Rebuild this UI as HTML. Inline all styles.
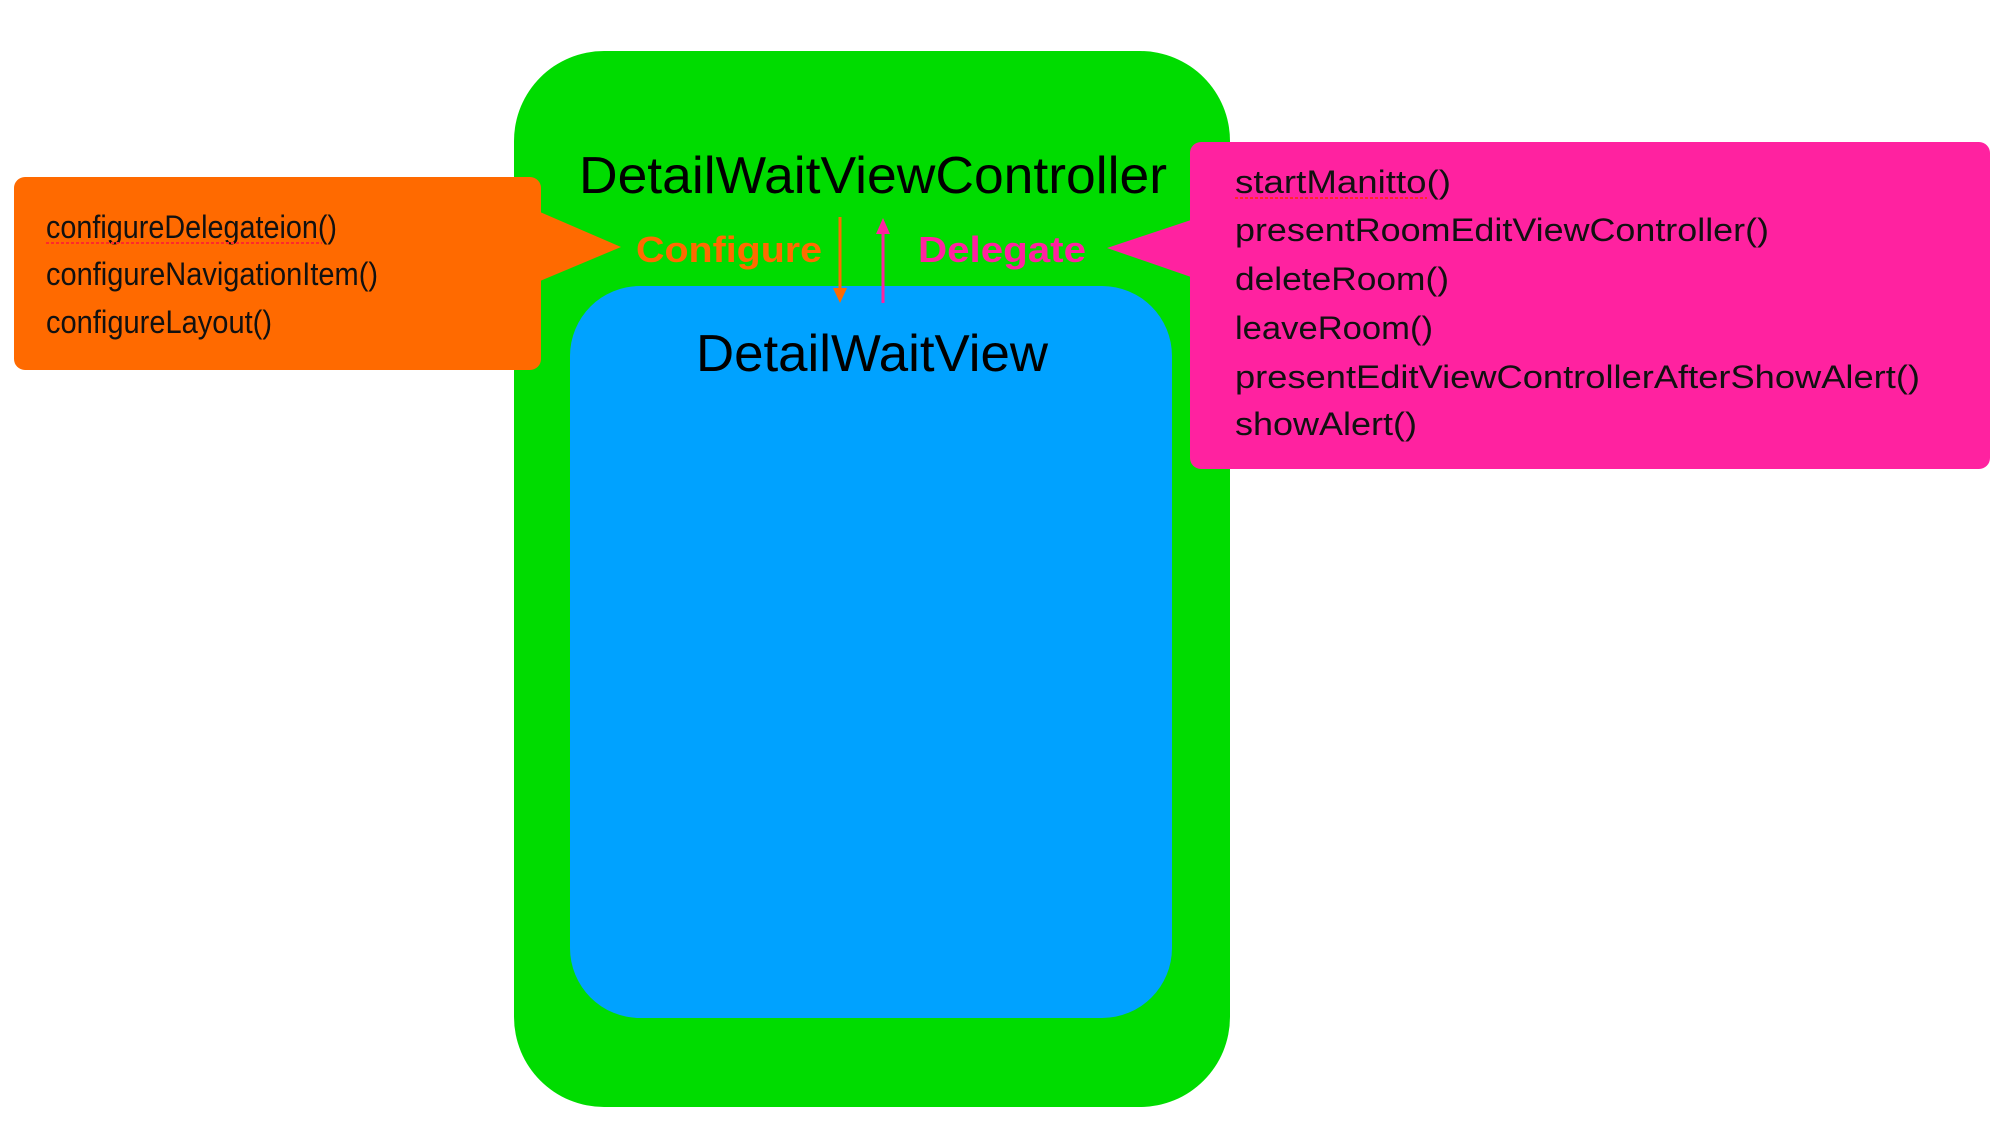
<!DOCTYPE html>
<html><head><meta charset="utf-8"><style>html,body{margin:0;padding:0;background:#fff;}svg{display:block}</style></head>
<body>
<svg width="2000" height="1129" viewBox="0 0 2000 1129" xmlns="http://www.w3.org/2000/svg" font-family="Liberation Sans, sans-serif">
<rect x="514" y="51" width="716" height="1056" rx="90" fill="#00dc00"/>
<rect x="570" y="286" width="602" height="732" rx="70" fill="#00a2ff"/>
<rect x="14" y="177" width="527" height="193" rx="11" fill="#ff6a00"/>
<polygon points="540,212 621,247 540,281" fill="#ff6a00"/>
<rect x="1190" y="142" width="800" height="327" rx="11" fill="#ff22a0"/>
<polygon points="1191,220 1107,248 1191,277" fill="#ff22a0"/>
<text x="579" y="193" font-size="52" textLength="588" lengthAdjust="spacingAndGlyphs">DetailWaitViewController</text>
<text x="696" y="371" font-size="52" textLength="352" lengthAdjust="spacingAndGlyphs">DetailWaitView</text>
<text x="636" y="262" font-size="36" font-weight="bold" fill="#ff6a00" textLength="186" lengthAdjust="spacingAndGlyphs">Configure</text>
<text x="918" y="262" font-size="36" font-weight="bold" fill="#ff22a0" textLength="168" lengthAdjust="spacingAndGlyphs">Delegate</text>
<line x1="840" y1="217" x2="840" y2="290" stroke="#ff6a00" stroke-width="3"/>
<polygon points="833,288 847,288 840,303" fill="#ff6a00"/>
<line x1="883" y1="232" x2="883" y2="303" stroke="#ff22a0" stroke-width="3"/>
<polygon points="876,234 890,234 883,218" fill="#ff22a0"/>
<g font-size="32" fill="#111">
<text x="46" y="238" textLength="291" lengthAdjust="spacingAndGlyphs">configureDelegateion()</text>
<text x="46" y="285" textLength="332" lengthAdjust="spacingAndGlyphs">configureNavigationItem()</text>
<text x="46" y="333" textLength="226" lengthAdjust="spacingAndGlyphs">configureLayout()</text>
<text x="1235" y="193" textLength="216" lengthAdjust="spacingAndGlyphs">startManitto()</text>
<text x="1235" y="241" textLength="534" lengthAdjust="spacingAndGlyphs">presentRoomEditViewController()</text>
<text x="1235" y="290" textLength="214" lengthAdjust="spacingAndGlyphs">deleteRoom()</text>
<text x="1235" y="339" textLength="198" lengthAdjust="spacingAndGlyphs">leaveRoom()</text>
<text x="1235" y="388" textLength="685" lengthAdjust="spacingAndGlyphs">presentEditViewControllerAfterShowAlert()</text>
<text x="1235" y="435" textLength="182" lengthAdjust="spacingAndGlyphs">showAlert()</text>
</g>
<line x1="46" y1="243" x2="322" y2="243" stroke="#ff2a2a" stroke-width="2" stroke-dasharray="3,2"/>
<line x1="1235" y1="198" x2="1427" y2="198" stroke="#ff2a2a" stroke-width="2" stroke-dasharray="3,2"/>
</svg>
</body></html>
